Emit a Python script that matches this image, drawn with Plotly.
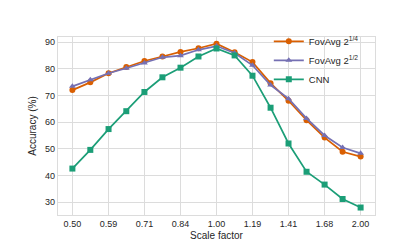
import plotly.graph_objects as go

scale = [0.500, 0.545, 0.595, 0.648, 0.707, 0.771, 0.841, 0.917, 1.000,
         1.091, 1.189, 1.297, 1.414, 1.542, 1.682, 1.834, 2.000]
fov_q = [72.0, 74.9, 78.3, 80.7, 82.9, 84.6, 86.3, 87.7, 89.4,
         86.2, 82.5, 74.6, 68.0, 60.7, 54.2, 48.9, 47.1]
fov_h = [73.4, 75.9, 78.3, 80.2, 82.2, 84.3, 84.9, 87.1, 88.5,
         85.9, 81.3, 73.9, 68.8, 61.4, 55.0, 50.5, 48.3]
cnn = [42.6, 49.6, 57.4, 64.1, 71.3, 76.8, 80.4, 84.6, 87.6,
       85.0, 77.4, 65.4, 52.0, 41.4, 36.6, 31.2, 28.0]
tick_vals = [0.5, 0.5946, 0.7071, 0.8409, 1.0, 1.1892, 1.4142, 1.6818, 2.0]
tick_text = ["0.50", "0.59", "0.71", "0.84", "1.00", "1.19", "1.41", "1.68", "2.00"]
y_ticks = [30, 40, 50, 60, 70, 80, 90]

fig = go.Figure()
series = [
    ("FovAvg 2<sup>1/4</sup>", fov_q, "#d95f02", "circle"),
    ("FovAvg 2<sup>1/2</sup>", fov_h, "#7570b3", "triangle-up"),
    ("CNN", cnn, "#1b9e77", "square"),
]
for name, ys, col, sym in series:
    fig.add_trace(go.Scatter(
        x=scale, y=ys, name=name, mode="lines+markers",
        line=dict(color=col, width=1.7),
        marker=dict(color=col, symbol=sym, size=6),
    ))

grid = "#dcdcdc"
fig.update_layout(
    width=407, height=244,
    margin=dict(l=50, r=40, t=29, b=31),
    paper_bgcolor="white", plot_bgcolor="white",
    font=dict(family="Liberation Sans, Arial, sans-serif", size=9, color="#262626"),
    showlegend=True,
    legend=dict(x=0.665, y=1.057, xanchor="left", yanchor="top",
                bgcolor="rgba(0,0,0,0)", font=dict(size=9.5),
                tracegroupgap=0, itemwidth=30),
)
fig.update_xaxes(
    type="log", range=[-0.3311, 0.3311],
    tickvals=tick_vals, ticktext=tick_text,
    showgrid=True, gridcolor=grid, gridwidth=1,
    showline=True, linecolor=grid, linewidth=1.2, mirror=True,
    ticks="", zeroline=False,
    title=dict(text="Scale factor", font=dict(size=10), standoff=4),
)
fig.update_yaxes(
    range=[25.2, 91.9], tickvals=y_ticks,
    showgrid=True, gridcolor=grid, gridwidth=1,
    showline=True, linecolor=grid, linewidth=1.2, mirror=True,
    ticks="", zeroline=False,
    title=dict(text="Accuracy (%)", font=dict(size=10), standoff=6),
)
fig.write_html("out.html")
